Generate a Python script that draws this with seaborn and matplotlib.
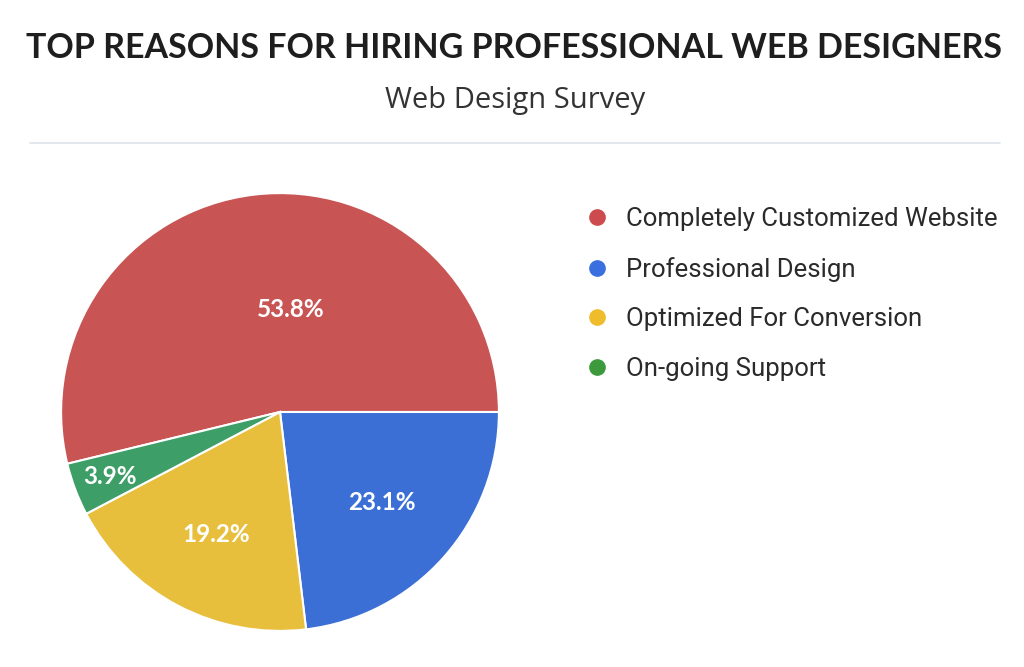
import matplotlib
matplotlib.use("Agg")
import matplotlib.pyplot as plt
import seaborn as sns
import numpy as np
from matplotlib.lines import Line2D

# data
reasons = ['Completely Customized Website', 'Professional Design',
           'Optimized For Conversion', 'On-going Support']
shares = [53.8, 23.1, 19.2, 3.9]
colors = ['#c95454', '#3b6fd6', '#e8be3d', '#3e9e68']
legend_colors = ['#cc4b4f', '#3a6fe0', '#efbd2c', '#3c9a3c']

sns.set_theme(style="white")
plt.rcParams['font.family'] = ['Roboto', 'DejaVu Sans']

fig = plt.figure(figsize=(10.24, 6.67), dpi=100)
fig.patch.set_facecolor('white')

# pie axes: centre ~ (280, 412) px, radius ~220 px
ax = fig.add_axes([60 / 1024, 35 / 667, 440 / 1024, 440 / 667])
wedges, texts, autotexts = ax.pie(
    shares, colors=colors, startangle=193.68, counterclock=False,
    autopct='%1.1f%%', pctdistance=0.62,
    wedgeprops=dict(edgecolor='white', linewidth=1.5),
    textprops=dict(color='white', fontsize=17.5, fontweight='bold', family='Lato'))
ax.set_xlim(-1.005, 1.005)
ax.set_ylim(-1.005, 1.005)
ax.set_aspect('equal')

# push labels in/out a bit like the original
dist = [0.47, 0.62, 0.63, 0.83]
for t, w, d in zip(autotexts, wedges, dist):
    ang = np.deg2rad((w.theta1 + w.theta2) / 2)
    t.set_position((d * np.cos(ang), d * np.sin(ang)))
autotexts[0].set_position((0.05, 0.47))

# title & subtitle
fig.text(0.502, 0.928, 'TOP REASONS FOR HIRING PROFESSIONAL WEB DESIGNERS',
         ha='center', va='center', fontsize=24.5, fontweight='bold',
         family='Lato', color='#1e1e1e')
fig.text(0.503, 0.849, 'Web Design Survey', ha='center', va='center',
         fontsize=21, family='Open Sans', color='#333333')
fig.add_artist(Line2D([30 / 1024, 1000 / 1024], [1 - 143 / 667, 1 - 143 / 667],
                      color='#dce3ea', linewidth=1.2, transform=fig.transFigure))

# legend
handles = [Line2D([0], [0], marker='o', linestyle='', markersize=11,
                  markerfacecolor=c, markeredgecolor=c) for c in legend_colors]
fig.legend(handles, reasons, loc='upper left',
           bbox_to_anchor=(548 / 1024, 1 - 184 / 667), frameon=False,
           fontsize=18.5, labelspacing=1.0, handletextpad=0.12,
           labelcolor='#2a2a2a')

fig.savefig('out.png', dpi=100, facecolor='white')
